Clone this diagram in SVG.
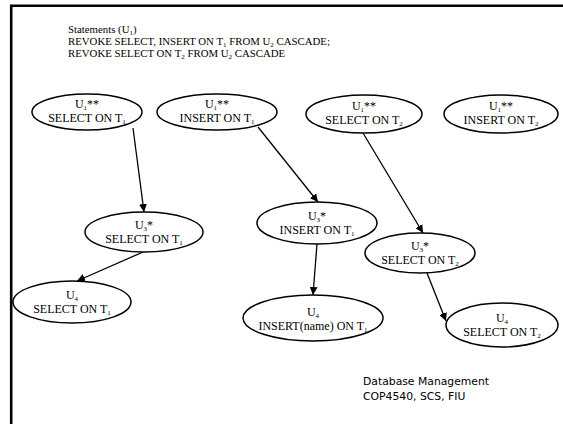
<svg xmlns="http://www.w3.org/2000/svg" width="563" height="424" viewBox="0 0 563 424">
<style>
.n ellipse{fill:#fff;stroke:#000;stroke-width:1.5}
.t{font-family:"Liberation Serif","Times New Roman",serif;font-size:12px;fill:#000;text-anchor:middle}
.h{font-family:"Liberation Serif","Times New Roman",serif;font-size:10.8px;fill:#000}
.c line{stroke:#000;stroke-width:1.3}
.f{font-family:"Comic Sans MS","DejaVu Sans",sans-serif;font-size:10.8px;fill:#000}
.s{font-size:7px}
</style>
<defs>
<marker id="ah" viewBox="0 0 10 10" refX="10" refY="5" markerWidth="8" markerHeight="8" markerUnits="userSpaceOnUse" orient="auto">
<path d="M0,0 L10,5 L0,10 z" fill="#000"/>
</marker>
</defs>
<rect width="563" height="424" fill="#fff"/>
<path d="M11.2,424 V5.7 H563" fill="none" stroke="#000" stroke-width="2.6"/>
<g id="header">
<text class="h" x="68" y="33">Statements (U<tspan class="s" dy="2">1</tspan><tspan dy="-2">)</tspan></text>
<text class="h" x="68" y="45">REVOKE SELECT, INSERT ON T<tspan class="s" dy="2">1</tspan><tspan dy="-2"> FROM U</tspan><tspan class="s" dy="2">2</tspan><tspan dy="-2"> CASCADE;</tspan></text>
<text class="h" x="68" y="57">REVOKE SELECT ON T<tspan class="s" dy="2">2</tspan><tspan dy="-2"> FROM U</tspan><tspan class="s" dy="2">2</tspan><tspan dy="-2"> CASCADE</tspan></text>
</g>
<g class="c" id="connectors">
<line x1="133" y1="128" x2="144" y2="212" marker-end="url(#ah)"/>
<line x1="258" y1="127" x2="318" y2="202" marker-end="url(#ah)"/>
<line x1="363" y1="133" x2="423" y2="233" marker-end="url(#ah)"/>
<line x1="143" y1="252" x2="77" y2="281" marker-end="url(#ah)"/>
<line x1="317" y1="244" x2="313" y2="295" marker-end="url(#ah)"/>
<line x1="427" y1="273" x2="446" y2="321" marker-end="url(#ah)"/>
</g>
<g class="n" id="n1"><ellipse cx="87" cy="112" rx="55" ry="18"/>
<text class="t" x="87" y="108">U<tspan class="s" dy="2">1</tspan><tspan dy="-2">**</tspan></text>
<text class="t" x="87" y="122">SELECT ON T<tspan class="s" dy="2">1</tspan></text></g>
<g class="n" id="n2"><ellipse cx="217" cy="112" rx="60" ry="18"/>
<text class="t" x="217" y="108">U<tspan class="s" dy="2">1</tspan><tspan dy="-2">**</tspan></text>
<text class="t" x="217" y="122">INSERT ON T<tspan class="s" dy="2">1</tspan></text></g>
<g class="n" id="n3"><ellipse cx="364" cy="114" rx="58" ry="19"/>
<text class="t" x="364" y="110">U<tspan class="s" dy="2">1</tspan><tspan dy="-2">**</tspan></text>
<text class="t" x="364" y="124">SELECT ON T<tspan class="s" dy="2">2</tspan></text></g>
<g class="n" id="n4"><ellipse cx="501" cy="114" rx="57" ry="19"/>
<text class="t" x="501" y="110">U<tspan class="s" dy="2">1</tspan><tspan dy="-2">**</tspan></text>
<text class="t" x="501" y="124">INSERT ON T<tspan class="s" dy="2">2</tspan></text></g>
<g class="n" id="n5"><ellipse cx="144" cy="232" rx="59" ry="20"/>
<text class="t" x="144" y="229">U<tspan class="s" dy="2">3</tspan><tspan dy="-2">*</tspan></text>
<text class="t" x="144" y="243">SELECT ON T<tspan class="s" dy="2">1</tspan></text></g>
<g class="n" id="n6"><ellipse cx="72" cy="302" rx="59" ry="21"/>
<text class="t" x="72" y="299">U<tspan class="s" dy="2">4</tspan></text>
<text class="t" x="72" y="313">SELECT ON T<tspan class="s" dy="2">1</tspan></text></g>
<g class="n" id="n7"><ellipse cx="317" cy="223" rx="60" ry="21"/>
<text class="t" x="317" y="220">U<tspan class="s" dy="2">3</tspan><tspan dy="-2">*</tspan></text>
<text class="t" x="317" y="234">INSERT ON T<tspan class="s" dy="2">1</tspan></text></g>
<g class="n" id="n8"><ellipse cx="420" cy="253" rx="55" ry="20"/>
<text class="t" x="420" y="250">U<tspan class="s" dy="2">3</tspan><tspan dy="-2">*</tspan></text>
<text class="t" x="420" y="264">SELECT ON T<tspan class="s" dy="2">2</tspan></text></g>
<g class="n" id="n9"><ellipse cx="313" cy="318" rx="70" ry="23"/>
<text class="t" x="313" y="316">U<tspan class="s" dy="2">4</tspan></text>
<text class="t" x="313" y="330">INSERT(name) ON T<tspan class="s" dy="2">1</tspan></text></g>
<g class="n" id="n10"><ellipse cx="502" cy="325" rx="56" ry="22"/>
<text class="t" x="502" y="322">U<tspan class="s" dy="2">4</tspan></text>
<text class="t" x="502" y="336">SELECT ON T<tspan class="s" dy="2">2</tspan></text></g>
<g id="footer">
<text class="f" x="363" y="385">Database Management</text>
<text class="f" x="363" y="400">COP4540, SCS, FIU</text>
</g>
</svg>
